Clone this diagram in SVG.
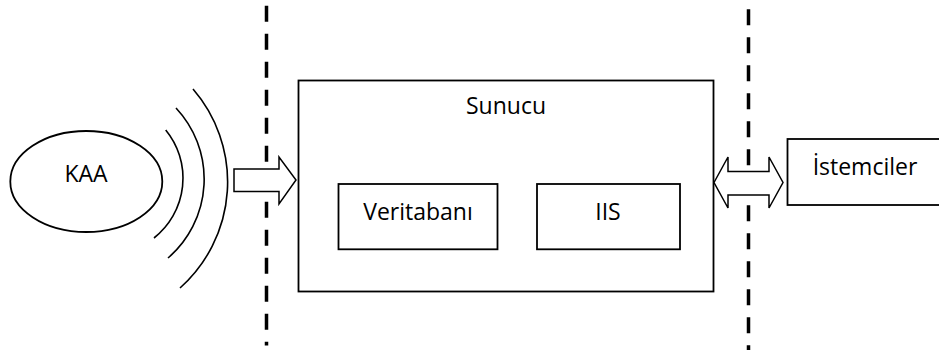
<svg xmlns="http://www.w3.org/2000/svg" width="939" height="356" viewBox="0 0 939 356">
  <style>
    .box { fill: #ffffff; stroke: #000000; stroke-width: 1.8; }
    .wave { fill: none; stroke: #000000; stroke-width: 1.6; }
    .boundary { fill: none; stroke: #000000; stroke-width: 3.5; stroke-dasharray: 16 12; }
    .arrow { fill: #ffffff; stroke: #000000; stroke-width: 1.5; stroke-linejoin: miter; }
    .label { font-family: "Open Sans", "Liberation Sans", sans-serif; font-size: 23px; fill: #000000; text-anchor: middle; }
  </style>
  <rect width="939" height="356" fill="#ffffff"/>

  <!-- network boundaries -->
  <g id="boundaries">
    <line class="boundary" x1="266.5" y1="5.7" x2="266.5" y2="345.5"/>
    <line class="boundary" x1="748.5" y1="9.3" x2="748.5" y2="350"/>
  </g>

  <!-- KAA transmitter -->
  <g id="kaa">
    <ellipse class="box" cx="86.3" cy="181.5" rx="76" ry="50.5" stroke-width="1.5"/>
    <text class="label" x="86" y="181.7">KAA</text>
  </g>

  <!-- radio waves -->
  <g id="waves">
    <path class="wave" d="M165.7 130 A76 76 0 0 1 154 238"/>
    <path class="wave" d="M176 108 A104 104 0 0 1 168 258"/>
    <path class="wave" d="M193 89 A142 142 0 0 1 180 288"/>
  </g>

  <!-- server -->
  <g id="sunucu">
    <rect class="box" x="298.5" y="80.5" width="415" height="211"/>
    <text class="label" x="506" y="113.5">Sunucu</text>
  </g>

  <g id="veritabani">
    <rect class="box" x="338.5" y="184" width="159" height="65.3"/>
    <text class="label" x="418" y="220">Veritabanı</text>
  </g>

  <g id="iis">
    <rect class="box" x="537" y="184" width="143" height="65.3"/>
    <text class="label" x="608" y="220">IIS</text>
  </g>

  <!-- clients -->
  <g id="istemciler">
    <rect class="box" x="787.5" y="139" width="160" height="66"/>
    <text class="label" x="865" y="175">İstemciler</text>
  </g>

  <!-- connectors -->
  <g id="connectors">
    <path class="arrow" d="M234 169 L279 169 L279 157 L296 180 L279 204 L279 191.5 L234 191.5 Z"/>
    <path class="arrow" d="M714 182.5 L728 157 L728 171.5 L769 171.5 L769 157 L783 182.5 L769 208 L769 195 L728 195 L728 208 Z"/>
  </g>
</svg>
